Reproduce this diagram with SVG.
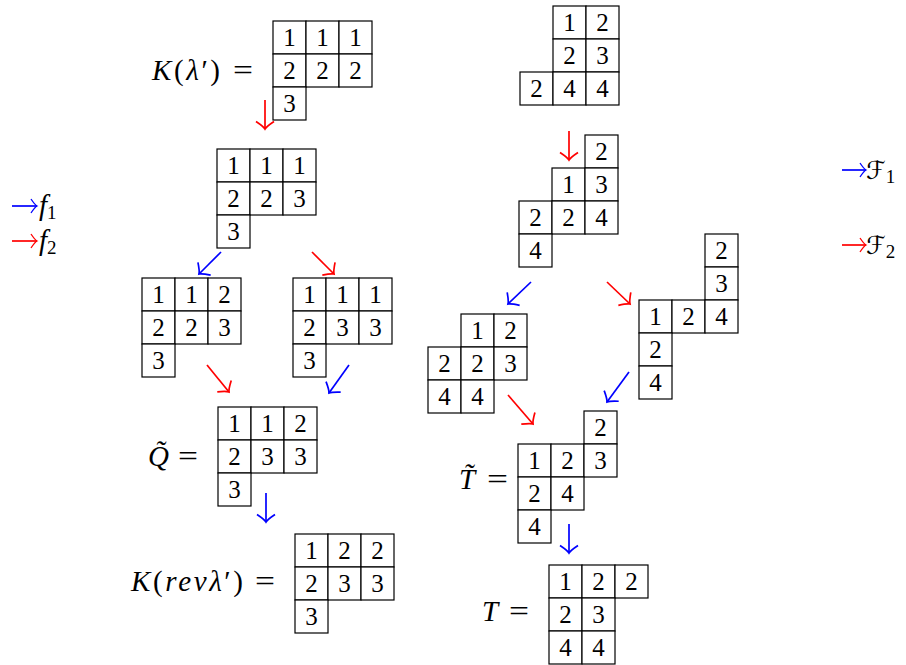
<svg xmlns="http://www.w3.org/2000/svg" width="906" height="665" viewBox="0 0 906 665">
<style>
.c{fill:#fff;stroke:#000;stroke-width:1.2}
.n{font-family:"Liberation Serif","Times New Roman","DejaVu Serif",serif;font-size:25px;text-anchor:middle;fill:#000}
.lb{font-family:"Liberation Serif","Times New Roman","DejaVu Serif",serif;font-size:29px;fill:#000}
.i{font-style:italic}
.sub{font-size:19px;font-style:normal}
.scr{font-family:"DejaVu Sans","Noto Sans",sans-serif;font-size:25px;font-style:normal}
.r{stroke:#f00;stroke-width:1.7;fill:none}
.b{stroke:#00f;stroke-width:1.7;fill:none}
</style>
<defs>
<marker id="hr" viewBox="-10 -11 12 22" refX="0" refY="0" markerWidth="12" markerHeight="22" markerUnits="userSpaceOnUse" orient="auto" overflow="visible">
<path d="M-7.5,-9 Q-2.5,-1.5 0,0 Q-2.5,1.5 -7.5,9" fill="none" stroke="#f00" stroke-width="1.7"/>
</marker>
<marker id="hb" viewBox="-10 -11 12 22" refX="0" refY="0" markerWidth="12" markerHeight="22" markerUnits="userSpaceOnUse" orient="auto" overflow="visible">
<path d="M-7.5,-9 Q-2.5,-1.5 0,0 Q-2.5,1.5 -7.5,9" fill="none" stroke="#00f" stroke-width="1.7"/>
</marker>
<marker id="sr" viewBox="-10 -11 12 22" refX="0" refY="0" markerWidth="12" markerHeight="22" markerUnits="userSpaceOnUse" orient="auto" overflow="visible">
<path d="M-6,-7 Q-2,-1 0,0 Q-2,1 -6,7" fill="none" stroke="#f00" stroke-width="1.3"/>
</marker>
<marker id="sb" viewBox="-10 -11 12 22" refX="0" refY="0" markerWidth="12" markerHeight="22" markerUnits="userSpaceOnUse" orient="auto" overflow="visible">
<path d="M-6,-7 Q-2,-1 0,0 Q-2,1 -6,7" fill="none" stroke="#00f" stroke-width="1.3"/>
</marker>
</defs>

<g id="K-lambda">
<text class="lb" x="152" y="80" textLength="68" lengthAdjust="spacing"><tspan class="i">K</tspan>(<tspan class="i">λ</tspan>′)</text>
<text class="lb" x="233" y="80" textLength="20" lengthAdjust="spacingAndGlyphs">=</text>
<rect class="c" x="273" y="21" width="33" height="33"/><rect class="c" x="306" y="21" width="33" height="33"/><rect class="c" x="339" y="21" width="33" height="33"/>
<rect class="c" x="273" y="54" width="33" height="33"/><rect class="c" x="306" y="54" width="33" height="33"/><rect class="c" x="339" y="54" width="33" height="33"/>
<rect class="c" x="273" y="87" width="33" height="33"/>
<text class="n" x="289.5" y="46">1</text><text class="n" x="322.5" y="46">1</text><text class="n" x="355.5" y="46">1</text>
<text class="n" x="289.5" y="79">2</text><text class="n" x="322.5" y="79">2</text><text class="n" x="355.5" y="79">2</text>
<text class="n" x="289.5" y="112">3</text>
</g>

<g id="T2">
<rect class="c" x="217" y="149" width="33" height="33"/><rect class="c" x="250" y="149" width="33" height="33"/><rect class="c" x="283" y="149" width="33" height="33"/>
<rect class="c" x="217" y="182" width="33" height="33"/><rect class="c" x="250" y="182" width="33" height="33"/><rect class="c" x="283" y="182" width="33" height="33"/>
<rect class="c" x="217" y="215" width="33" height="33"/>
<text class="n" x="233.5" y="174">1</text><text class="n" x="266.5" y="174">1</text><text class="n" x="299.5" y="174">1</text>
<text class="n" x="233.5" y="207">2</text><text class="n" x="266.5" y="207">2</text><text class="n" x="299.5" y="207">3</text>
<text class="n" x="233.5" y="240">3</text>
</g>

<g id="T3">
<rect class="c" x="142" y="278" width="33" height="33"/><rect class="c" x="175" y="278" width="33" height="33"/><rect class="c" x="208" y="278" width="33" height="33"/>
<rect class="c" x="142" y="311" width="33" height="33"/><rect class="c" x="175" y="311" width="33" height="33"/><rect class="c" x="208" y="311" width="33" height="33"/>
<rect class="c" x="142" y="344" width="33" height="33"/>
<text class="n" x="158.5" y="303">1</text><text class="n" x="191.5" y="303">1</text><text class="n" x="224.5" y="303">2</text>
<text class="n" x="158.5" y="336">2</text><text class="n" x="191.5" y="336">2</text><text class="n" x="224.5" y="336">3</text>
<text class="n" x="158.5" y="369">3</text>
</g>

<g id="T4">
<rect class="c" x="293" y="278" width="33" height="33"/><rect class="c" x="326" y="278" width="33" height="33"/><rect class="c" x="359" y="278" width="33" height="33"/>
<rect class="c" x="293" y="311" width="33" height="33"/><rect class="c" x="326" y="311" width="33" height="33"/><rect class="c" x="359" y="311" width="33" height="33"/>
<rect class="c" x="293" y="344" width="33" height="33"/>
<text class="n" x="309.5" y="303">1</text><text class="n" x="342.5" y="303">1</text><text class="n" x="375.5" y="303">1</text>
<text class="n" x="309.5" y="336">2</text><text class="n" x="342.5" y="336">3</text><text class="n" x="375.5" y="336">3</text>
<text class="n" x="309.5" y="369">3</text>
</g>

<g id="Qtilde">
<text class="lb i" x="148" y="466">Q̃</text>
<text class="lb" x="178" y="466" textLength="20" lengthAdjust="spacingAndGlyphs">=</text>
<rect class="c" x="218" y="407" width="33" height="33"/><rect class="c" x="251" y="407" width="33" height="33"/><rect class="c" x="284" y="407" width="33" height="33"/>
<rect class="c" x="218" y="440" width="33" height="33"/><rect class="c" x="251" y="440" width="33" height="33"/><rect class="c" x="284" y="440" width="33" height="33"/>
<rect class="c" x="218" y="473" width="33" height="33"/>
<text class="n" x="234.5" y="432">1</text><text class="n" x="267.5" y="432">1</text><text class="n" x="300.5" y="432">2</text>
<text class="n" x="234.5" y="465">2</text><text class="n" x="267.5" y="465">3</text><text class="n" x="300.5" y="465">3</text>
<text class="n" x="234.5" y="498">3</text>
</g>

<g id="K-rev">
<text class="lb" x="131" y="591" textLength="112" lengthAdjust="spacing"><tspan class="i">K</tspan>(<tspan class="i">revλ</tspan>′)</text>
<text class="lb" x="255" y="591" textLength="20" lengthAdjust="spacingAndGlyphs">=</text>
<rect class="c" x="295" y="534" width="33" height="33"/><rect class="c" x="328" y="534" width="33" height="33"/><rect class="c" x="361" y="534" width="33" height="33"/>
<rect class="c" x="295" y="567" width="33" height="33"/><rect class="c" x="328" y="567" width="33" height="33"/><rect class="c" x="361" y="567" width="33" height="33"/>
<rect class="c" x="295" y="600" width="33" height="33"/>
<text class="n" x="311.5" y="559">1</text><text class="n" x="344.5" y="559">2</text><text class="n" x="377.5" y="559">2</text>
<text class="n" x="311.5" y="592">2</text><text class="n" x="344.5" y="592">3</text><text class="n" x="377.5" y="592">3</text>
<text class="n" x="311.5" y="625">3</text>
</g>

<g id="RA">
<rect class="c" x="553" y="6" width="33" height="33"/><rect class="c" x="586" y="6" width="33" height="33"/>
<rect class="c" x="553" y="39" width="33" height="33"/><rect class="c" x="586" y="39" width="33" height="33"/>
<rect class="c" x="520" y="72" width="33" height="33"/><rect class="c" x="553" y="72" width="33" height="33"/><rect class="c" x="586" y="72" width="33" height="33"/>
<text class="n" x="569.5" y="31">1</text><text class="n" x="602.5" y="31">2</text>
<text class="n" x="569.5" y="64">2</text><text class="n" x="602.5" y="64">3</text>
<text class="n" x="536.5" y="97">2</text><text class="n" x="569.5" y="97">4</text><text class="n" x="602.5" y="97">4</text>
</g>

<g id="RB">
<rect class="c" x="585" y="135" width="33" height="33"/>
<rect class="c" x="552" y="168" width="33" height="33"/><rect class="c" x="585" y="168" width="33" height="33"/>
<rect class="c" x="519" y="201" width="33" height="33"/><rect class="c" x="552" y="201" width="33" height="33"/><rect class="c" x="585" y="201" width="33" height="33"/>
<rect class="c" x="519" y="234" width="33" height="33"/>
<text class="n" x="601.5" y="160">2</text>
<text class="n" x="568.5" y="193">1</text><text class="n" x="601.5" y="193">3</text>
<text class="n" x="535.5" y="226">2</text><text class="n" x="568.5" y="226">2</text><text class="n" x="601.5" y="226">4</text>
<text class="n" x="535.5" y="259">4</text>
</g>

<g id="RC">
<rect class="c" x="705" y="234" width="33" height="33"/>
<rect class="c" x="705" y="267" width="33" height="33"/>
<rect class="c" x="639" y="300" width="33" height="33"/><rect class="c" x="672" y="300" width="33" height="33"/><rect class="c" x="705" y="300" width="33" height="33"/>
<rect class="c" x="639" y="333" width="33" height="33"/>
<rect class="c" x="639" y="366" width="33" height="33"/>
<text class="n" x="721.5" y="259">2</text>
<text class="n" x="721.5" y="292">3</text>
<text class="n" x="655.5" y="325">1</text><text class="n" x="688.5" y="325">2</text><text class="n" x="721.5" y="325">4</text>
<text class="n" x="655.5" y="358">2</text>
<text class="n" x="655.5" y="391">4</text>
</g>

<g id="RD">
<rect class="c" x="461" y="314" width="33" height="33"/><rect class="c" x="494" y="314" width="33" height="33"/>
<rect class="c" x="428" y="347" width="33" height="33"/><rect class="c" x="461" y="347" width="33" height="33"/><rect class="c" x="494" y="347" width="33" height="33"/>
<rect class="c" x="428" y="380" width="33" height="33"/><rect class="c" x="461" y="380" width="33" height="33"/>
<text class="n" x="477.5" y="339">1</text><text class="n" x="510.5" y="339">2</text>
<text class="n" x="444.5" y="372">2</text><text class="n" x="477.5" y="372">2</text><text class="n" x="510.5" y="372">3</text>
<text class="n" x="444.5" y="405">4</text><text class="n" x="477.5" y="405">4</text>
</g>

<g id="Ttilde">
<text class="lb i" x="459" y="489">T̃</text>
<text class="lb" x="487" y="489" textLength="21" lengthAdjust="spacingAndGlyphs">=</text>
<rect class="c" x="584" y="411" width="33" height="33"/>
<rect class="c" x="518" y="444" width="33" height="33"/><rect class="c" x="551" y="444" width="33" height="33"/><rect class="c" x="584" y="444" width="33" height="33"/>
<rect class="c" x="518" y="477" width="33" height="33"/><rect class="c" x="551" y="477" width="33" height="33"/>
<rect class="c" x="518" y="510" width="33" height="33"/>
<text class="n" x="600.5" y="436">2</text>
<text class="n" x="534.5" y="469">1</text><text class="n" x="567.5" y="469">2</text><text class="n" x="600.5" y="469">3</text>
<text class="n" x="534.5" y="502">2</text><text class="n" x="567.5" y="502">4</text>
<text class="n" x="534.5" y="535">4</text>
</g>

<g id="T">
<text class="lb i" x="482" y="621">T</text>
<text class="lb" x="509" y="621" textLength="20" lengthAdjust="spacingAndGlyphs">=</text>
<rect class="c" x="549" y="565" width="33" height="33"/><rect class="c" x="582" y="565" width="33" height="33"/><rect class="c" x="615" y="565" width="33" height="33"/>
<rect class="c" x="549" y="598" width="33" height="33"/><rect class="c" x="582" y="598" width="33" height="33"/>
<rect class="c" x="549" y="631" width="33" height="33"/><rect class="c" x="582" y="631" width="33" height="33"/>
<text class="n" x="565.5" y="590">1</text><text class="n" x="598.5" y="590">2</text><text class="n" x="631.5" y="590">2</text>
<text class="n" x="565.5" y="623">2</text><text class="n" x="598.5" y="623">3</text>
<text class="n" x="565.5" y="656">4</text><text class="n" x="598.5" y="656">4</text>
</g>

<g id="connectors">
<line class="r" x1="265" y1="100" x2="265" y2="129" marker-end="url(#hr)"/>
<line class="b" x1="221" y1="252" x2="199" y2="274" marker-end="url(#hb)"/>
<line class="r" x1="312" y1="252" x2="334" y2="274" marker-end="url(#hr)"/>
<line class="r" x1="207" y1="365" x2="229" y2="392" marker-end="url(#hr)"/>
<line class="b" x1="349" y1="365" x2="329" y2="393" marker-end="url(#hb)"/>
<line class="b" x1="266" y1="493" x2="266" y2="522" marker-end="url(#hb)"/>
<line class="r" x1="569" y1="131" x2="569" y2="160" marker-end="url(#hr)"/>
<line class="b" x1="531" y1="282" x2="508" y2="304" marker-end="url(#hb)"/>
<line class="r" x1="607" y1="282" x2="630" y2="304" marker-end="url(#hr)"/>
<line class="r" x1="508" y1="395" x2="533" y2="424" marker-end="url(#hr)"/>
<line class="b" x1="629" y1="372" x2="607" y2="402" marker-end="url(#hb)"/>
<line class="b" x1="569" y1="524" x2="569" y2="553" marker-end="url(#hb)"/>
</g>

<g id="legend-f">
<line class="b" x1="12" y1="206" x2="37" y2="206" marker-end="url(#sb)"/>
<text class="lb" x="39" y="215"><tspan class="i">f</tspan><tspan class="sub" dy="4">1</tspan></text>
<line class="r" x1="12" y1="241" x2="37" y2="241" marker-end="url(#sr)"/>
<text class="lb" x="39" y="250"><tspan class="i">f</tspan><tspan class="sub" dy="4">2</tspan></text>
</g>

<g id="legend-F">
<line class="b" x1="842" y1="170" x2="866" y2="170" marker-end="url(#sb)"/>
<text class="lb" x="866" y="179"><tspan class="scr">ℱ</tspan><tspan class="sub" dy="4">1</tspan></text>
<line class="r" x1="842" y1="245" x2="866" y2="245" marker-end="url(#sr)"/>
<text class="lb" x="866" y="254"><tspan class="scr">ℱ</tspan><tspan class="sub" dy="4">2</tspan></text>
</g>
</svg>
